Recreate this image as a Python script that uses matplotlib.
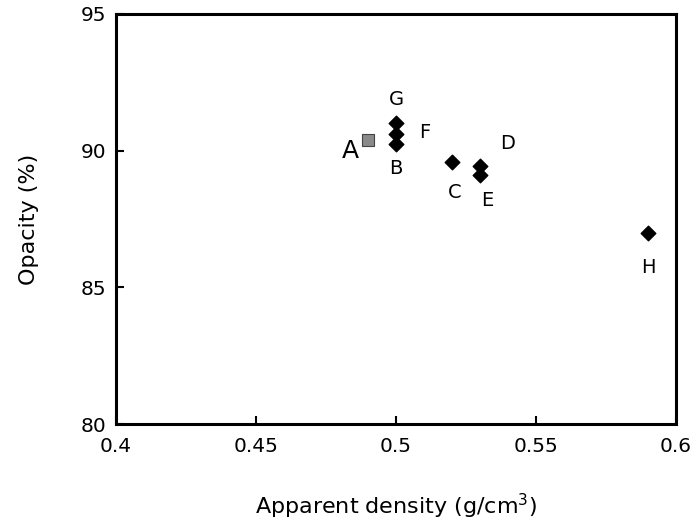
import matplotlib
matplotlib.use("Agg")
import matplotlib.pyplot as plt

# sample data
labels = ["A", "B", "C", "D", "E", "F", "G", "H"]
density = [0.49, 0.50, 0.52, 0.53, 0.53, 0.50, 0.50, 0.59]
opacity = [90.4, 90.25, 89.6, 89.45, 89.1, 90.6, 91.0, 87.0]

# label offsets in points (dx, dy)
offsets = {
    "A": (-13, -8), "B": (0, -18), "C": (2, -22), "D": (20, 16),
    "E": (5, -18), "F": (21, 1), "G": (0, 17), "H": (0, -25),
}

plt.rcParams["font.family"] = ["DejaVu Sans"]

fig = plt.figure(figsize=(6.99, 5.31), dpi=100)
ax = fig.add_axes([0.166, 0.201, 0.801, 0.773])

for lab, x, y in zip(labels, density, opacity):
    if lab == "A":
        ax.scatter(x, y, marker="s", s=80, color="#8a8a8a", edgecolor="#444444",
                   linewidth=0.8, zorder=3)
    else:
        ax.scatter(x, y, marker="D", s=55, color="black", zorder=3)
    dx, dy = offsets[lab]
    ax.annotate(lab, (x, y), xytext=(dx, dy), textcoords="offset points",
                ha="center", va="center", fontsize=18 if lab == "A" else 14)

ax.set_xlim(0.4, 0.6)
ax.set_ylim(80, 95)
ax.set_xticks([0.4, 0.45, 0.5, 0.55, 0.6])
ax.set_xticklabels(["0.4", "0.45", "0.5", "0.55", "0.6"])
ax.set_yticks([80, 85, 90, 95])
ax.tick_params(direction="in", length=6, width=1.5, labelsize=14.5)
ax.tick_params(axis="x", pad=9)
ax.tick_params(axis="y", pad=7)
for sp in ax.spines.values():
    sp.set_linewidth(2.2)

ax.set_xlabel("Apparent density (g/cm$^3$)", fontsize=16, labelpad=26)
ax.set_ylabel("Opacity (%)", fontsize=16, labelpad=30)

fig.savefig("out.png", dpi=100)
